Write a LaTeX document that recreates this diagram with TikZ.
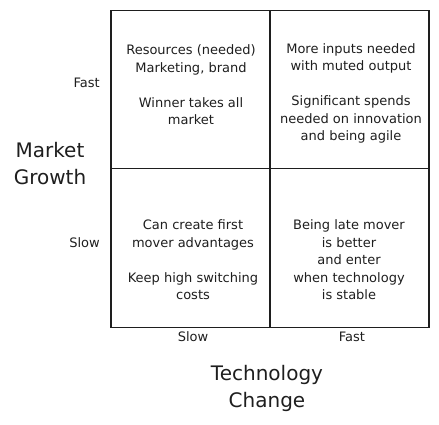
\documentclass[tikz,border=0pt]{standalone}
\usepackage{fontspec}
\setmainfont{DejaVu Sans}
\usepackage{xcolor}
\usetikzlibrary{positioning}
\definecolor{inkgray}{RGB}{30,30,30}
\tikzset{every node/.append style={align=center}}
\tikzset{
  cell/.style={rectangle, draw=inkgray, line width=1.3pt, outer sep=0pt,
    minimum width=159pt, minimum height=158.5pt, inner sep=0pt},
  body/.style={font=\fontsize{13}{17.5}\selectfont, text=inkgray, inner sep=0pt},
  tick/.style={font=\fontsize{13}{17.5}\selectfont, text=inkgray, inner sep=0pt},
  axis/.style={font=\fontsize{20}{27}\selectfont, text=inkgray, inner sep=0pt}
}
\begin{document}
\begin{tikzpicture}[x=1pt, y=-1pt, node distance=0pt]
  \useasboundingbox (0,0) rectangle (439,425);
  % quadrants
  \node[cell] (cellTL) at (190.5,89.5) {};
  \node[cell, right=of cellTL] (cellTR) {};
  \node[cell, below=of cellTL] (cellBL) {};
  \node[cell, right=of cellBL] (cellBR) {};
  % quadrant texts
  \node[body] (textTL) at (191,85) {Resources (needed)\\Marketing, brand\\[17.5pt]Winner takes all\\market};
  \node[body] (textTR) at (351,93.5) {More inputs needed\\with muted output\\[17.5pt]Significant spends\\needed on innovation\\and being agile};
  \node[body] (textBL) at (193,260) {Can create first\\mover advantages\\[17.5pt]Keep high switching\\costs};
  \node[body] (textBR) at (349,260) {Being late mover\\is better\\and enter\\when technology\\is stable};
  % axes
  \node[tick, anchor=east] (growFast) at (100,83) {Fast};
  \node[tick, anchor=east] (growSlow) at (100,243) {Slow};
  \node[axis] (growth) at (50,164) {Market\\Growth};
  \node[tick] (techSlow) at (193,337) {Slow};
  \node[tick] (techFast) at (352,337) {Fast};
  \node[axis] (tech) at (267,388) {Technology\\Change};
\end{tikzpicture}
\end{document}
